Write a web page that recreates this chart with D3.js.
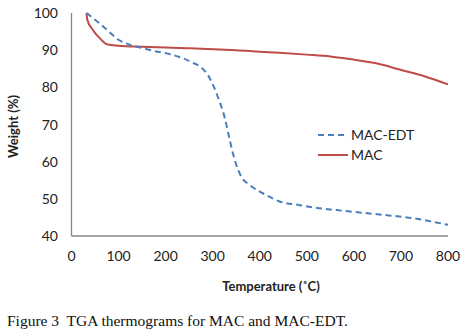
<!DOCTYPE html>
<html>
<head>
<meta charset="utf-8">
<script src="https://cdn.jsdelivr.net/npm/d3@7"></script>
<style>
  body { margin: 0; background: #fff; }
  svg { display: block; }
</style>
</head>
<body>
<div id="chart"></div>
<script>
// MAC-EDT (blue dashed)
const edtTemp = [32, 50, 75, 100, 125, 150, 175, 210, 237, 258, 273, 294, 311, 326, 336, 347, 361, 379, 414, 442, 485, 513, 584, 654, 725, 800];
const edtWeight = [100, 98.2, 95.5, 92.8, 91.4, 90.6, 89.8, 88.9, 87.8, 86.6, 85.6, 82.4, 77.4, 71.6, 66.0, 60.4, 55.9, 53.7, 51.0, 49.3, 48.3, 47.7, 46.7, 45.8, 44.8, 43.0];

// MAC (red solid)
const macTemp = [32, 33.5, 45, 64, 75, 100, 150, 200, 250, 315, 350, 400, 442, 500, 550, 591, 650, 697, 750, 800];
const macWeight = [100, 98.2, 95.5, 92.7, 91.6, 91.2, 90.9, 90.7, 90.5, 90.2, 90.0, 89.6, 89.3, 88.8, 88.3, 87.6, 86.4, 84.8, 83.0, 80.8];

const xTicks = [0, 100, 200, 300, 400, 500, 600, 700, 800];
const yTicks = [40, 50, 60, 70, 80, 90, 100];
const seriesNames = ["MAC-EDT", "MAC"];
const seriesColors = ["#4a7ebb", "#be4b48"];

const W = 470, H = 332;
const margin = {left: 71.5, right: 22, top: 13, bottom: 96};

const svg = d3.select("#chart").append("svg")
  .attr("width", W)
  .attr("height", H);

const x = d3.scaleLinear().domain([0, 800]).range([margin.left, W - margin.right]);
const y = d3.scaleLinear().domain([40, 100]).range([H - margin.bottom, margin.top]);

const axisFont = "Lato, 'Open Sans', sans-serif";

// axis lines
svg.append("line")
  .attr("x1", x(0)).attr("x2", x(800))
  .attr("y1", y(40)).attr("y2", y(40))
  .attr("stroke", "#868686").attr("stroke-width", 1.3);
svg.append("line")
  .attr("x1", x(0)).attr("x2", x(0))
  .attr("y1", y(40)).attr("y2", y(100))
  .attr("stroke", "#868686").attr("stroke-width", 1.3);

// tick labels
svg.selectAll(".xt").data(xTicks).enter().append("text")
  .attr("x", d => x(d))
  .attr("y", y(40) + 25)
  .attr("text-anchor", "middle")
  .style("font-family", axisFont).style("font-size", "14px").style("fill", "#222")
  .text(d => d);

svg.selectAll(".yt").data(yTicks).enter().append("text")
  .attr("x", 58)
  .attr("y", d => y(d) + 5)
  .attr("text-anchor", "end")
  .style("font-family", axisFont).style("font-size", "14px").style("fill", "#222")
  .text(d => d);

// axis titles
svg.append("text")
  .attr("transform", "translate(18," + ((y(40) + y(100)) / 2 + 2) + ") rotate(-90)")
  .attr("text-anchor", "middle")
  .style("font-family", axisFont).style("font-size", "13px").style("font-weight", "bold").style("fill", "#222")
  .text("Weight (%)");

svg.append("text")
  .attr("x", 271).attr("y", 291)
  .attr("text-anchor", "middle")
  .style("font-family", axisFont).style("font-size", "13px").style("font-weight", "bold").style("fill", "#222")
  .text("Temperature (˚C)");

// lines
const line = d3.line()
  .x(d => x(d[0]))
  .y(d => y(d[1]))
  .curve(d3.curveMonotoneX);

const edtData = d3.zip(edtTemp, edtWeight);
const macData = d3.zip(macTemp, macWeight);

svg.append("path")
  .datum(macData)
  .attr("d", line)
  .attr("fill", "none")
  .attr("stroke", seriesColors[1])
  .attr("stroke-width", 2);

svg.append("path")
  .datum(edtData)
  .attr("d", line)
  .attr("fill", "none")
  .attr("stroke", seriesColors[0])
  .attr("stroke-width", 2)
  .attr("stroke-dasharray", "6,4");

// legend
const legend = svg.append("g").attr("transform", "translate(318,135)");
seriesNames.forEach((name, i) => {
  const g = legend.append("g").attr("transform", "translate(0," + (i * 20) + ")");
  g.append("line")
    .attr("x1", 0).attr("x2", 30)
    .attr("y1", 0).attr("y2", 0)
    .attr("stroke", seriesColors[i])
    .attr("stroke-width", 2)
    .attr("stroke-dasharray", i === 0 ? "6,4" : null);
  g.append("text")
    .attr("x", 33).attr("y", 5)
    .style("font-family", axisFont).style("font-size", "14px").style("fill", "#222")
    .text(name);
});

// caption
svg.append("text")
  .attr("x", 7).attr("y", 326)
  .attr("xml:space", "preserve")
  .style("font-family", "'Liberation Serif', 'DejaVu Serif', serif").style("font-size", "15.5px").style("fill", "#111")
  .style("white-space", "pre")
  .text("Figure 3  TGA thermograms for MAC and MAC-EDT.");
</script>
</body>
</html>
